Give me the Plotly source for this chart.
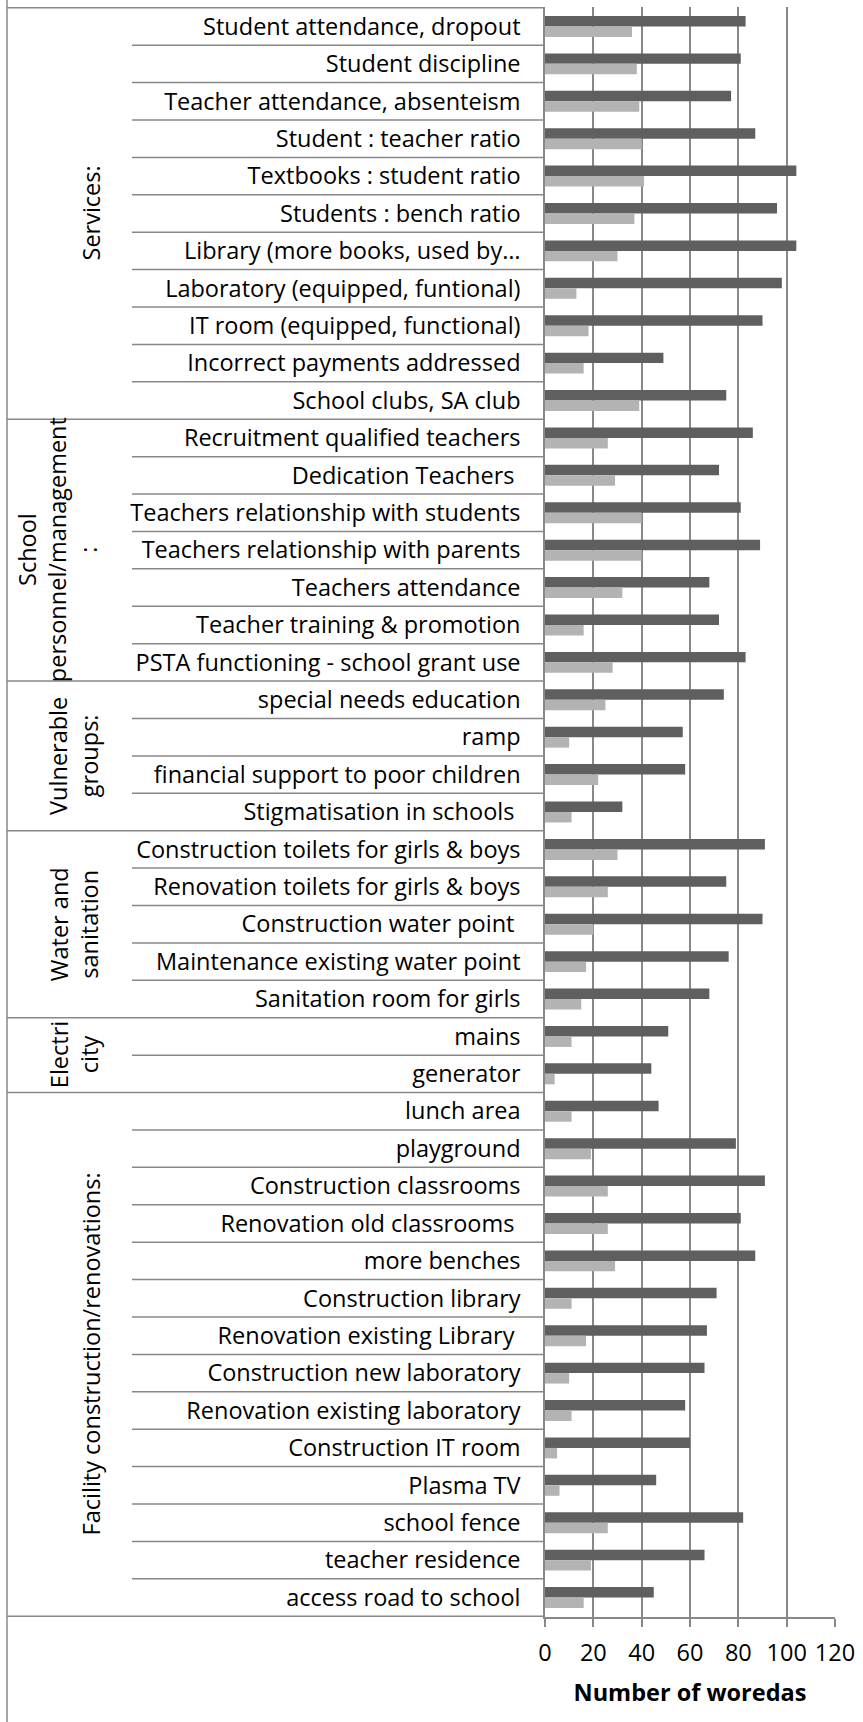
import plotly.graph_objects as go

# ---------------- data ----------------
categories = [
    "Student attendance, dropout",
    "Student discipline",
    "Teacher attendance, absenteism",
    "Student : teacher ratio",
    "Textbooks : student ratio",
    "Students : bench ratio",
    "Library (more books, used by…",
    "Laboratory (equipped, funtional)",
    "IT room (equipped, functional)",
    "Incorrect payments addressed",
    "School clubs, SA club",
    "Recruitment qualified teachers",
    "Dedication Teachers\u00a0",
    "Teachers relationship with students",
    "Teachers relationship with parents",
    "Teachers attendance",
    "Teacher training & promotion",
    "PSTA functioning - school grant use",
    "special needs education",
    "ramp",
    "financial support to poor children",
    "Stigmatisation in schools\u00a0",
    "Construction toilets for girls & boys",
    "Renovation toilets for girls & boys",
    "Construction water point\u00a0",
    "Maintenance existing water point",
    "Sanitation room for girls",
    "mains",
    "generator",
    "lunch area",
    "playground",
    "Construction classrooms",
    "Renovation old classrooms\u00a0",
    "more benches",
    "Construction library",
    "Renovation existing Library\u00a0",
    "Construction new laboratory",
    "Renovation existing laboratory",
    "Construction IT room",
    "Plasma TV",
    "school fence",
    "teacher residence",
    "access road to school",
]

series_dark = [83, 81, 77, 87, 104, 96, 104, 98, 90, 49, 75,
               86, 72, 81, 89, 68, 72, 83,
               74, 57, 58, 32,
               91, 75, 90, 76, 68,
               51, 44,
               47, 79, 91, 81, 87, 71, 67, 66, 58, 60, 46, 82, 66, 45]

series_light = [36, 38, 39, 40, 41, 37, 30, 13, 18, 16, 39,
                26, 29, 40, 40, 32, 16, 28,
                25, 10, 22, 11,
                30, 26, 20, 17, 15,
                11, 4,
                11, 19, 26, 26, 29, 11, 17, 10, 11, 5, 6, 26, 19, 16]

group_labels = ["Services:",
                "School<br>personnel/management<br>:",
                "Vulnerable<br>groups:",
                "Water and<br>sanitation",
                "Electri<br>city",
                "Facility construction/renovations:"]
group_sizes = [11, 7, 4, 5, 2, 14]

x_ticks = [0, 20, 40, 60, 80, 100, 120]
x_title = "Number of woredas"

# ---------------- layout constants ----------------
W, H = 863, 1722
ML, MR, MT, MB = 545, 28, 7, 105
PW = W - ML - MR
PH = H - MT - MB
FONT = "Open Sans"
FS = 23.5
LINE = "#888888"


def px_x(p):
    return (p - ML) / PW


def px_y(p):
    return (H - MB - p) / PH


fig = go.Figure()
fig.add_trace(go.Bar(y=categories, x=series_dark, orientation="h",
                     marker=dict(color="#5f5f5f", line=dict(width=0)),
                     name="Series 1"))
fig.add_trace(go.Bar(y=categories, x=series_light, orientation="h",
                     marker=dict(color="#b3b3b3", line=dict(width=0)),
                     name="Series 2"))

shapes = []
group_edges = [-0.5]
for s in group_sizes:
    group_edges.append(group_edges[-1] + s)
for i in range(len(categories) + 1):
    b = i - 0.5
    x0 = px_x(7) if b in group_edges else px_x(132)
    shapes.append(dict(type="line", xref="paper", yref="y", x0=x0, x1=0,
                       y0=b, y1=b, line=dict(color=LINE, width=1.5)))
shapes.append(dict(type="line", xref="paper", yref="paper",
                   x0=px_x(7), x1=px_x(7), y0=px_y(H), y1=px_y(0),
                   line=dict(color=LINE, width=1.5)))

annotations = []
label_x = {1: 91, 2: 74, 3: 57}
for lbl, s, e0 in zip(group_labels, group_sizes, group_edges[:-1]):
    nlines = lbl.count("<br>") + 1
    annotations.append(dict(text=lbl, xref="paper", yref="y",
                            x=px_x(label_x[nlines]), y=e0 + s / 2,
                            xanchor="center", yanchor="middle",
                            textangle=-90, showarrow=False,
                            font=dict(family=FONT, size=FS, color="black")))

fig.update_layout(
    width=W, height=H,
    margin=dict(l=ML, r=MR, t=MT, b=MB, pad=0),
    paper_bgcolor="white", plot_bgcolor="white",
    barmode="group", bargap=0.44, bargroupgap=0,
    showlegend=False,
    font=dict(family=FONT, size=FS, color="black"),
    shapes=shapes, annotations=annotations,
)
fig.update_yaxes(type="category", autorange="reversed", automargin=False,
                 showline=True, linecolor=LINE, linewidth=1.5,
                 ticks="", showgrid=False, ticklabelstandoff=18,
                 tickfont=dict(family=FONT, size=FS, color="black"))
fig.update_xaxes(range=[0, 120], tickvals=x_ticks, automargin=False,
                 showgrid=True, gridcolor=LINE, gridwidth=1.5,
                 zeroline=False, showline=True, linecolor=LINE, linewidth=1.5,
                 ticks="outside", ticklen=8, tickcolor=LINE, tickwidth=1.5,
                 ticklabelstandoff=6,
                 tickfont=dict(family=FONT, size=FS, color="black"),
                 title=dict(text="<b>" + x_title + "</b>", standoff=18,
                            font=dict(family=FONT, size=FS, color="black")))

fig.write_html("out.html",
               config={"displayModeBar": False},
               post_script="document.body.style.margin='0px';"
                           "document.body.style.overflow='hidden';")
